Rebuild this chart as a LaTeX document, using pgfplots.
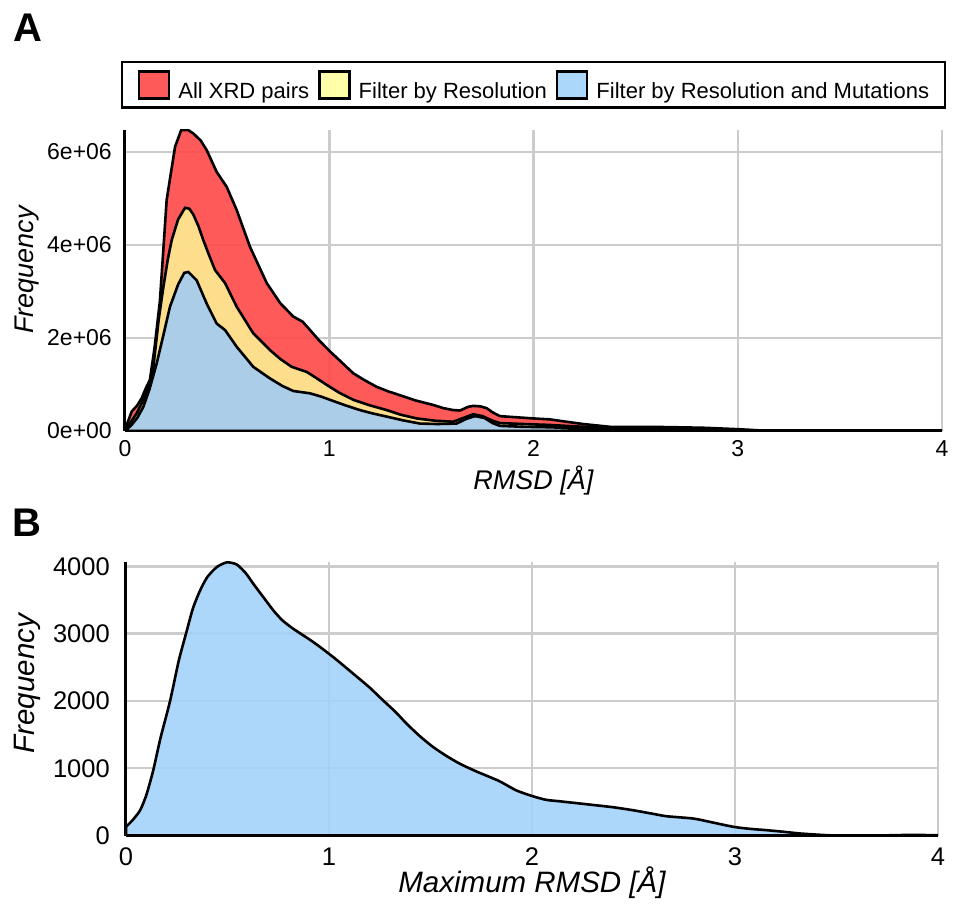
\documentclass[border=0pt]{standalone}
\usepackage{fontspec}
\setmainfont{Liberation Sans}
\usepackage{pgfplots}
\pgfplotsset{compat=1.18}

\definecolor{allred}{RGB}{255,72,72}
\definecolor{resyellow}{RGB}{252,237,146}
\definecolor{mutblue}{RGB}{163,204,242}
\definecolor{maxblue}{RGB}{163,209,249}
\definecolor{legred}{RGB}{255,90,90}
\definecolor{legyellow}{RGB}{255,255,170}
\definecolor{legblue}{RGB}{170,215,250}
\definecolor{gridgray}{RGB}{204,204,204}

% y values of panel A are in millions
\pgfplotstableread{
x y
0 0.0
0.01 0.15
0.033 0.42
0.06 0.55
0.082 0.71
0.105 0.95
0.122 1.10
0.145 1.8
0.171 2.80
0.204 4.97
0.245 6.11
0.275 6.47
0.31 6.47
0.334 6.40
0.37 6.25
0.40 6.04
0.449 5.57
0.498 5.25
0.547 4.75
0.612 3.96
0.694 3.18
0.76 2.75
0.824 2.46
0.87 2.35
0.906 2.17
0.95 1.95
1.004 1.71
1.06 1.48
1.118 1.24
1.17 1.10
1.232 0.95
1.29 0.85
1.346 0.77
1.42 0.66
1.509 0.56
1.56 0.49
1.607 0.45
1.64 0.44
1.68 0.52
1.705 0.54
1.74 0.53
1.771 0.49
1.80 0.40
1.836 0.32
1.9 0.30
1.999 0.27
2.08 0.25
2.16 0.20
2.243 0.15
2.374 0.09
2.57 0.09
2.7 0.08
2.83 0.07
2.995 0.04
3.1 0.015
3.22 0.006
3.5 0.002
4.0 0.0
}\allxrd

\pgfplotstableread{
x y
0 0
0.03 0.2
0.06 0.4
0.09 0.67
0.115 0.95
0.139 1.38
0.165 2.4
0.188 3.10
0.21 3.7
0.229 4.11
0.26 4.55
0.294 4.80
0.315 4.78
0.334 4.66
0.36 4.4
0.383 4.11
0.41 3.8
0.441 3.46
0.49 3.18
0.547 2.67
0.628 2.10
0.71 1.74
0.76 1.55
0.816 1.38
0.89 1.27
0.94 1.13
0.988 0.99
1.05 0.82
1.118 0.67
1.2 0.55
1.281 0.45
1.35 0.35
1.428 0.27
1.52 0.22
1.607 0.20
1.65 0.27
1.705 0.36
1.75 0.32
1.8 0.22
1.836 0.17
1.95 0.15
2.08 0.13
2.2 0.10
2.4 0.06
2.6 0.05
2.8 0.04
3.0 0.02
3.2 0.005
4.0 0
}\byres

\pgfplotstableread{
x y
0 0
0.03 0.12
0.06 0.28
0.09 0.52
0.12 0.9
0.155 1.45
0.19 2.1
0.22 2.67
0.26 3.15
0.29 3.40
0.31 3.42
0.351 3.24
0.40 2.74
0.449 2.31
0.49 2.17
0.547 1.81
0.628 1.38
0.71 1.13
0.77 0.97
0.824 0.86
0.906 0.81
0.96 0.74
1.004 0.67
1.08 0.55
1.15 0.45
1.21 0.38
1.281 0.31
1.36 0.23
1.444 0.16
1.53 0.15
1.624 0.16
1.67 0.26
1.714 0.32
1.76 0.28
1.8 0.17
1.836 0.11
1.95 0.09
2.08 0.08
2.2 0.06
2.4 0.04
2.6 0.03
2.8 0.02
3.0 0.01
3.2 0.003
4.0 0
}\byresmut

\pgfplotstableread{
x y
0 130
0.03 220
0.069 372
0.10 600
0.134 967
0.17 1450
0.217 1998
0.26 2600
0.299 3039
0.33 3380
0.365 3643
0.40 3840
0.447 3990
0.496 4060
0.545 4030
0.59 3900
0.627 3743
0.68 3530
0.726 3346
0.77 3200
0.824 3073
0.923 2875
1.021 2652
1.12 2404
1.2 2200
1.267 2007
1.33 1830
1.383 1660
1.45 1470
1.514 1313
1.58 1180
1.645 1066
1.72 960
1.793 868
1.842 804
1.924 669
2.006 582
2.07 530
2.138 508
2.286 459
2.4 420
2.499 375
2.6 320
2.664 286
2.795 252
2.88 200
2.992 129
3.07 100
3.156 79
3.24 55
3.32 30
3.42 10
3.5 0
3.7 0
3.85 8
4.0 5
}\maxrmsd

\begin{document}
\begin{tikzpicture}
\useasboundingbox (0,0) rectangle (956pt,911pt);
\pgfplotsset{
  panel/.style={
    scale only axis,
    xmin=0, xmax=4, ymin=0,
    axis lines=left,
    axis line style={-, line width=3pt, black},
    grid=major,
    grid style={line width=2.5pt, gridgray},
    major tick length=0pt,
    xtick={0,1,2,3,4},
    /pgf/number format/assume math mode=true,
    /pgf/number format/1000 sep={},
    xticklabel style={anchor=north, inner sep=0pt},
    yticklabel style={anchor=east, inner sep=0pt},
  },
  area/.style={draw=black, line width=2.6pt, fill opacity=0.9},
}

\node[anchor=base west, inner sep=0pt, font=\fontsize{40}{40}\selectfont\bfseries] at (13pt,869pt) {A};
\node[anchor=base west, inner sep=0pt, font=\fontsize{40}{40}\selectfont\bfseries] at (12pt,374pt) {B};

\begin{axis}[panel,
  at={(125pt,480pt)}, anchor=south west,
  width=817pt, height=301pt,
  ymax=6.473,
  ytick={0,2,4,6},
  yticklabels={0e+00,2e+06,4e+06,6e+06},
  tick label style={font=\fontsize{23}{23}\selectfont},
  xticklabel style={yshift=-9pt},
  yticklabel style={xshift=-13pt},
  xlabel={RMSD [Å]},
  ylabel={Frequency},
  label style={font=\fontsize{27}{27}\selectfont\itshape},
  xlabel style={at={(axis description cs:0.5,-0.196)}, anchor=base},
  ylabel style={at={(axis description cs:-0.1126,0.535)}, anchor=base},
  legend columns=3,
  legend cell align=left,
  legend image code/.code={\draw[#1, draw=black, line width=2.5pt] (0pt,-7.5pt) rectangle (30pt,19.5pt);},
  legend style={at={(0.5,1)}, anchor=south, yshift=21pt,
    draw=black, line width=2.5pt, inner xsep=16pt, inner ysep=8pt,
    font=\fontsize{22}{22}\selectfont,
    nodes={inner sep=0pt},
    /tikz/every odd column/.style={column sep=8pt},
    /tikz/every even column/.style={column sep=9pt}},
]
\addplot[area, fill=allred, forget plot] table[x=x, y=y] {\allxrd} \closedcycle;
\addplot[area, fill=resyellow, forget plot] table[x=x, y=y] {\byres} \closedcycle;
\addplot[area, fill=mutblue, forget plot] table[x=x, y=y] {\byresmut} \closedcycle;
\addlegendimage{fill=legred}
\addlegendentry{All XRD pairs}
\addlegendimage{fill=legyellow}
\addlegendentry{Filter by Resolution}
\addlegendimage{fill=legblue}
\addlegendentry{Filter by Resolution and Mutations}
\end{axis}

\begin{axis}[panel,
  at={(126pt,75.5pt)}, anchor=south west,
  width=812pt, height=273.5pt,
  ymax=4066,
  ytick={0,1000,2000,3000,4000},
  tick label style={font=\fontsize{25.5}{25.5}\selectfont},
  xticklabel style={yshift=-12pt},
  yticklabel style={xshift=-16pt},
  xlabel={Maximum RMSD [Å]},
  ylabel={Frequency},
  label style={font=\fontsize{29.5}{29.5}\selectfont\itshape},
  xlabel style={at={(axis description cs:0.5,-0.208)}, anchor=base},
  ylabel style={at={(axis description cs:-0.1133,0.555)}, anchor=base},
]
\addplot[area, fill=maxblue, smooth, tension=0.4] table[x=x, y=y] {\maxrmsd} \closedcycle;
\end{axis}
\end{tikzpicture}
\end{document}
